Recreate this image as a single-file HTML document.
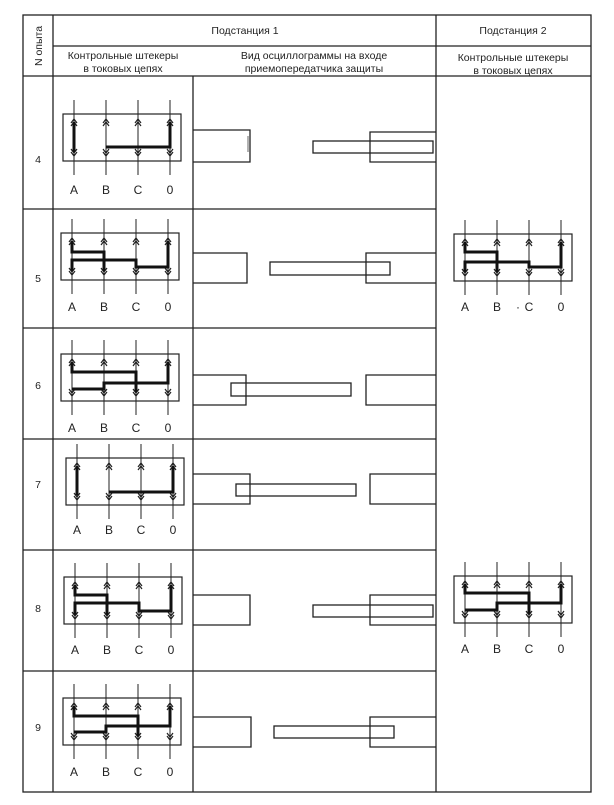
<!DOCTYPE html>
<html><head><meta charset="utf-8"><style>
body{margin:0;background:#fff;}
svg{display:block;}
text{font-family:"Liberation Sans",sans-serif;fill:#222;}
</style></head><body>
<svg width="614" height="805" viewBox="0 0 614 805" xmlns="http://www.w3.org/2000/svg">
<defs>
<g id="plug" fill="none" stroke="#222">
<rect x="0" y="0" width="118" height="47" stroke-width="1.2"/>
<path d="M11,-14V61M43,-14V61M75,-14V61M107,-14V61" stroke-width="1"/>
<path d="M8,9L11,5L14,9M8,12L11,8L14,12M40,9L43,5L46,9M40,12L43,8L46,12M72,9L75,5L78,9M72,12L75,8L78,12M104,9L107,5L110,9M104,12L107,8L110,12" stroke-width="1.2"/>
<path d="M8,35L11,39L14,35M8,38L11,42L14,38M40,35L43,39L46,35M40,38L43,42L46,38M72,35L75,39L78,35M72,38L75,42L78,38M104,35L107,39L110,35M104,38L107,42L110,38" stroke-width="1.2"/>
</g>
</defs>
<g fill="none" stroke="#222" stroke-width="1.3">
<rect x="23" y="15" width="568" height="777"/>
<path d="M53,15V792M436,15V792M53,46H591M23,76H591"/>
<path d="M193,76V792M23,209H436M23,328H436M23,439H436M23,550H436M23,671H436"/>
</g>
<g font-size="10.5" text-anchor="middle">
<text x="245" y="34">Подстанция 1</text>
<text x="513" y="34">Подстанция 2</text>
<text x="123" y="59">Контрольные штекеры</text>
<text x="123" y="72">в токовых цепях</text>
<text x="314" y="59">Вид осциллограммы на входе</text>
<text x="314" y="72">приемопередатчика защиты</text>
<text x="513" y="61">Контрольные штекеры</text>
<text x="513" y="74">в токовых цепях</text>
<text transform="translate(42,46) rotate(-90)">N опыта</text>
<text x="38" y="163">4</text>
<text x="38" y="282">5</text>
<text x="38" y="389">6</text>
<text x="38" y="488">7</text>
<text x="38" y="612">8</text>
<text x="38" y="731">9</text>
</g>
<g fill="none" stroke="#111" stroke-width="3" stroke-linejoin="miter">
<g transform="translate(63,114)"><use href="#plug"/><path d="M11,8V38M43,33H107V8"/></g>
<g transform="translate(61,233)"><use href="#plug"/><path d="M11,8V19H43V38M11,38V27H75V34H107V8"/></g>
<g transform="translate(61,354)"><use href="#plug"/><path d="M11,8V18H75V38M11,35H43V29H107V8"/></g>
<g transform="translate(66,458)"><use href="#plug"/><path d="M11,8V37M43,34H107V8"/></g>
<g transform="translate(64,577)"><use href="#plug"/><path d="M11,8V18H43V38M11,38V26H75V34H107V8"/></g>
<g transform="translate(63,698)"><use href="#plug"/><path d="M11,8V18H75V38M11,34H43V28H107V8"/></g>
<g transform="translate(454,234)"><use href="#plug"/><path d="M11,8V18H43V38M11,38V28H75V33H107V8"/></g>
<g transform="translate(454,576)"><use href="#plug"/><path d="M11,8V17H75V38M11,34H43V27H107V8"/></g>
</g>
<g font-size="12" text-anchor="middle">
<g transform="translate(63,194)"><text x="11">A</text><text x="43">B</text><text x="75">C</text><text x="107">0</text></g>
<g transform="translate(61,311)"><text x="11">A</text><text x="43">B</text><text x="75">C</text><text x="107">0</text></g>
<g transform="translate(61,432)"><text x="11">A</text><text x="43">B</text><text x="75">C</text><text x="107">0</text></g>
<g transform="translate(66,534)"><text x="11">A</text><text x="43">B</text><text x="75">C</text><text x="107">0</text></g>
<g transform="translate(64,654)"><text x="11">A</text><text x="43">B</text><text x="75">C</text><text x="107">0</text></g>
<g transform="translate(63,776)"><text x="11">A</text><text x="43">B</text><text x="75">C</text><text x="107">0</text></g>
<g transform="translate(454,311)"><text x="11">A</text><text x="43">B</text><text x="64">·</text><text x="75">C</text><text x="107">0</text></g>
<g transform="translate(454,653)"><text x="11">A</text><text x="43">B</text><text x="75">C</text><text x="107">0</text></g>
</g>
<g fill="none" stroke="#222" stroke-width="1.3">
<path d="M193,130H250V162H193M436,132H370V162H436"/><rect x="313" y="141" width="120" height="12"/>
<path d="M248,136V152" stroke="#888"/>
<path d="M193,253H247V283H193M436,253H366V283H436"/><rect x="270" y="262" width="120" height="13"/>
<path d="M193,375H246V405H193M436,375H366V405H436"/><rect x="231" y="383" width="120" height="13"/>
<path d="M193,474H250V504H193M436,474H370V504H436"/><rect x="236" y="484" width="120" height="12"/>
<path d="M193,595H250V625H193M436,595H370V625H436"/><rect x="313" y="605" width="120" height="12"/>
<path d="M193,717H251V747H193M436,717H370V747H436"/><rect x="274" y="726" width="120" height="12"/>
</g>
</svg>
</body></html>
